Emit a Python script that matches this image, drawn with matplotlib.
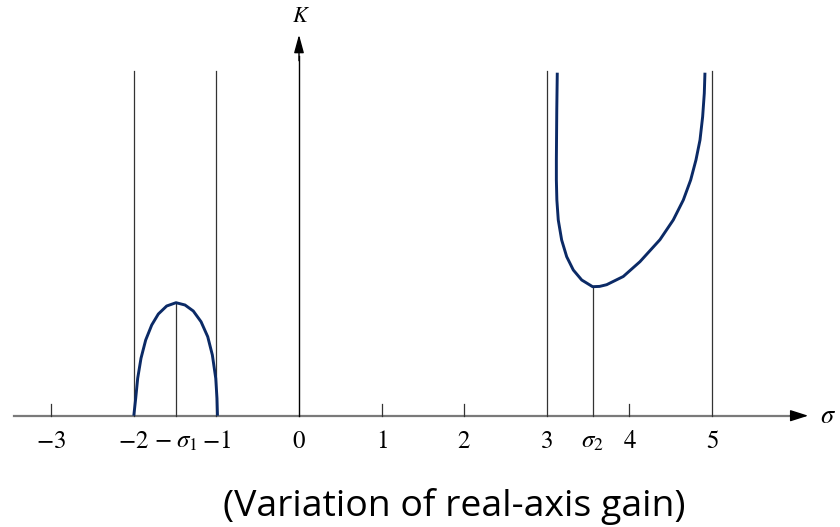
import matplotlib
matplotlib.use("Agg")
import matplotlib.pyplot as plt

plt.rcParams['mathtext.fontset'] = 'stix'

# Tick labels on sigma axis
tick_pos = [-3, -2, -1.489, -1, 0, 1, 2, 3, 3.555, 4, 5]
tick_lab = [r'$-3$', r'$-2$', r'$-\;\sigma_1$', r'$-1$', r'$0$', r'$1$', r'$2$',
            r'$3$', r'$\sigma_2$', r'$4$', r'$5$']
small_ticks = [-3, 1, 2, 4]
full_lines = [-2, -1, 3, 5]
sigma1, K1 = -1.489, 1.13
sigma2, K2 = 3.555, 1.29
top_K = 3.45

# Gain curve (arbitrary K units)
left_sigma = [-2.0, -1.977, -1.953, -1.913, -1.856, -1.783, -1.703, -1.602,
              -1.489, -1.380, -1.280, -1.186, -1.105, -1.049, -1.008, -0.993, -0.987]
left_K = [0.0, 0.174, 0.374, 0.574, 0.757, 0.907, 1.017, 1.097,
          1.130, 1.107, 1.047, 0.940, 0.790, 0.607, 0.374, 0.174, 0.0]

right_sigma = [3.127, 3.121, 3.116, 3.116, 3.122, 3.139, 3.180, 3.241, 3.321,
               3.423, 3.555, 3.640, 3.725, 3.926, 4.128, 4.260, 4.370, 4.531,
               4.653, 4.742, 4.806, 4.855, 4.887, 4.907, 4.915]
right_K = [3.43, 3.06, 2.56, 2.357, 2.157, 1.957, 1.757, 1.590, 1.457,
           1.357, 1.290, 1.293, 1.310, 1.392, 1.540, 1.660, 1.760, 1.957,
           2.157, 2.357, 2.557, 2.757, 2.990, 3.224, 3.43]

fig = plt.figure(figsize=(8.4, 5.27), dpi=100)
ax = fig.add_axes([0, 0, 1, 1])
ax.set_xlim(-3.620, 6.550)
ax.set_ylim(-1.113, 4.157)
ax.axis('off')

curve_color = '#0b2a66'
# sigma axis
ax.plot([-3.45, 6.0], [0, 0], color='#7a7a7a', lw=1.6, zorder=2)
ax.annotate('', xy=(6.165, 0), xytext=(5.95, 0),
            arrowprops=dict(arrowstyle='-|>,head_length=1.1,head_width=0.35',
                            color='black', lw=1.0, shrinkA=0, shrinkB=0))
ax.text(6.40, 0.0, r'$\sigma$', fontsize=19, ha='center', va='center')

# K axis
ax.plot([0, 0], [0, 3.6], color='black', lw=1.0, zorder=2)
ax.annotate('', xy=(0, 3.81), xytext=(0, 3.55),
            arrowprops=dict(arrowstyle='-|>,head_length=1.1,head_width=0.3',
                            color='black', lw=1.0, shrinkA=0, shrinkB=0))
ax.text(0.02, 4.0, r'$K$', fontsize=16, ha='center', va='center')

for x in full_lines:
    ax.plot([x, x], [0, top_K], color='#333333', lw=0.9, zorder=2)
for x in small_ticks:
    ax.plot([x, x], [0, 0.12], color='#333333', lw=0.9, zorder=2)
ax.plot([sigma1, sigma1], [0, K1], color='#333333', lw=0.9, zorder=2)
ax.plot([sigma2, sigma2], [0, K2], color='#333333', lw=0.9, zorder=2)

ax.plot(left_sigma, left_K, color=curve_color, lw=2.1, zorder=3,
        solid_capstyle='butt', solid_joinstyle='round')
ax.plot(right_sigma, right_K, color=curve_color, lw=2.1, zorder=3,
        solid_capstyle='butt', solid_joinstyle='round')

for p, l in zip(tick_pos, tick_lab):
    ax.text(p, -0.25, l, fontsize=18, ha='center', va='center')

cap = ax.text(1.88, -0.91, '(Variation of real-axis gain)', fontsize=25,
              family='Open Sans', ha='center', va='center')
fig.canvas.draw()
w = cap.get_window_extent().width
cap.set_fontsize(25 * 464.0 / w)

fig.savefig('out.png', dpi=100)
